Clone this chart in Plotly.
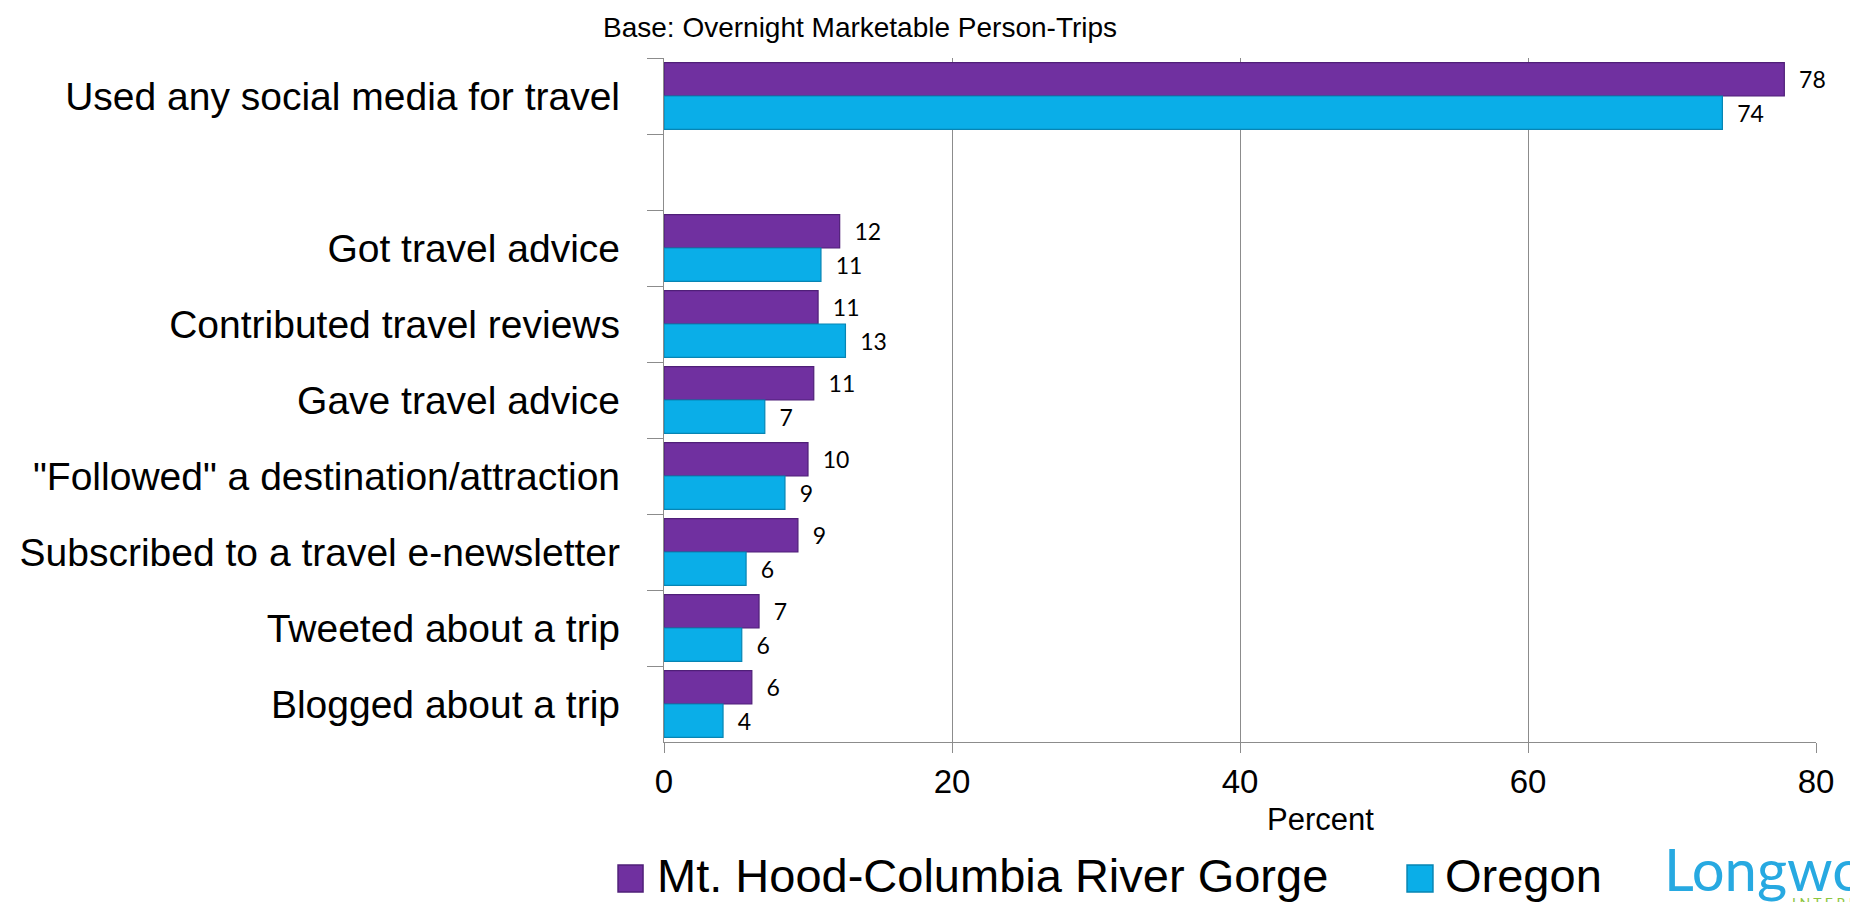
import plotly.graph_objects as go

# social media use for travel, percent of overnight marketable person-trips
categories = [
    "Used any social media for travel",
    " ",
    "Got travel advice",
    "Contributed travel reviews",
    "Gave travel advice",
    "\"Followed\" a destination/attraction",
    "Subscribed to a travel e-newsletter",
    "Tweeted about a trip",
    "Blogged about a trip",
]
mt_hood = [77.8, None, 12.2, 10.7, 10.4, 10.0, 9.3, 6.6, 6.1]
oregon = [73.5, None, 10.9, 12.6, 7.0, 8.4, 5.7, 5.4, 4.1]
mt_hood_labels = ["78", "", "12", "11", "11", "10", "9", "7", "6"]
oregon_labels = ["74", "", "11", "13", "7", "9", "6", "6", "4"]

PURPLE = "#7030A0"
BLUE = "#0AAEE8"
GRID = "#8C8C8C"
NB = "\u00a0"

fig = go.Figure()
fig.add_trace(go.Bar(
    y=categories, x=mt_hood, orientation="h", name="Mt. Hood-Columbia River Gorge",
    marker=dict(color=PURPLE, line=dict(color="#4F1F78", width=1.2)),
    text=mt_hood_labels, texttemplate=NB * 2 + "%{text}", textposition="outside",
    textfont=dict(family="Lato", size=23, color="black"), cliponaxis=False,
))
fig.add_trace(go.Bar(
    y=categories, x=oregon, orientation="h", name="Oregon",
    marker=dict(color=BLUE, line=dict(color="#0785B3", width=1.2)),
    text=oregon_labels, texttemplate=NB * 2 + "%{text}", textposition="outside",
    textfont=dict(family="Lato", size=23, color="black"), cliponaxis=False,
))

fig.update_layout(
    width=1850, height=902,
    margin=dict(l=664, r=34, t=58, b=160, autoexpand=False),
    plot_bgcolor="white", paper_bgcolor="white",
    barmode="group", bargap=0.12, bargroupgap=0,
    showlegend=False,
    font=dict(family="Liberation Sans, Arial", color="black"),
)
fig.update_yaxes(
    type="category", categoryorder="array", categoryarray=categories,
    autorange="reversed", tickson="boundaries", ticks="outside", ticklen=16,
    tickcolor=GRID, tickwidth=1.3, showline=True, linecolor=GRID, linewidth=1.3,
    showgrid=False, ticklabelstandoff=35, automargin=False,
    tickfont=dict(size=39),
)
fig.update_xaxes(
    range=[0, 80], tick0=0, dtick=20, showgrid=True, gridcolor=GRID, gridwidth=1.3,
    ticks="outside", ticklen=10, tickcolor=GRID, tickwidth=1.3,
    showline=True, linecolor=GRID, linewidth=1.3, zeroline=False, automargin=False,
    tickfont=dict(size=33),
)

# subtitle and axis caption
fig.add_annotation(text="Base: Overnight Marketable Person-Trips", xref="paper", yref="paper",
                   x=0.170, y=1.045, xanchor="center", yanchor="middle",
                   showarrow=False, font=dict(size=28))
fig.add_annotation(text="Percent", xref="paper", yref="paper",
                   x=0.570, y=-0.114, xanchor="center", yanchor="middle",
                   showarrow=False, font=dict(size=31))

# legend drawn by hand so the swatches can be large
fig.add_shape(type="rect", xref="paper", yref="paper", x0=-0.0399, x1=-0.0182,
              y0=-0.2193, y1=-0.1798, fillcolor=PURPLE, line=dict(color="#4F1F78", width=1.5))
fig.add_shape(type="rect", xref="paper", yref="paper", x0=0.645, x1=0.6675,
              y0=-0.2193, y1=-0.1798, fillcolor=BLUE, line=dict(color="#0785B3", width=1.5))
fig.add_annotation(text="Mt. Hood-Columbia River Gorge", xref="paper", yref="paper",
                   x=-0.0078, y=-0.195, xanchor="left", yanchor="middle",
                   showarrow=False, font=dict(size=47))
fig.add_annotation(text="Oregon", xref="paper", yref="paper",
                   x=0.676, y=-0.195, xanchor="left", yanchor="middle",
                   showarrow=False, font=dict(size=47))

# logo, cut off by the right edge as in the slide
fig.add_annotation(text="Longwoods", xref="paper", yref="paper",
                   x=0.866, y=-0.185, xanchor="left", yanchor="middle", showarrow=False,
                   font=dict(family="Lato", size=58, color="#27A9E1"))
fig.add_annotation(text="I N T E R N A T I O N A L", xref="paper", yref="paper",
                   x=0.977, y=-0.219, xanchor="left", yanchor="top", showarrow=False,
                   font=dict(family="Lato", size=14, color="#8DC63F"))

fig.write_html("out.html", config={"displayModeBar": False},
               post_script="document.body.style.margin='0';document.body.style.overflow='hidden';")
